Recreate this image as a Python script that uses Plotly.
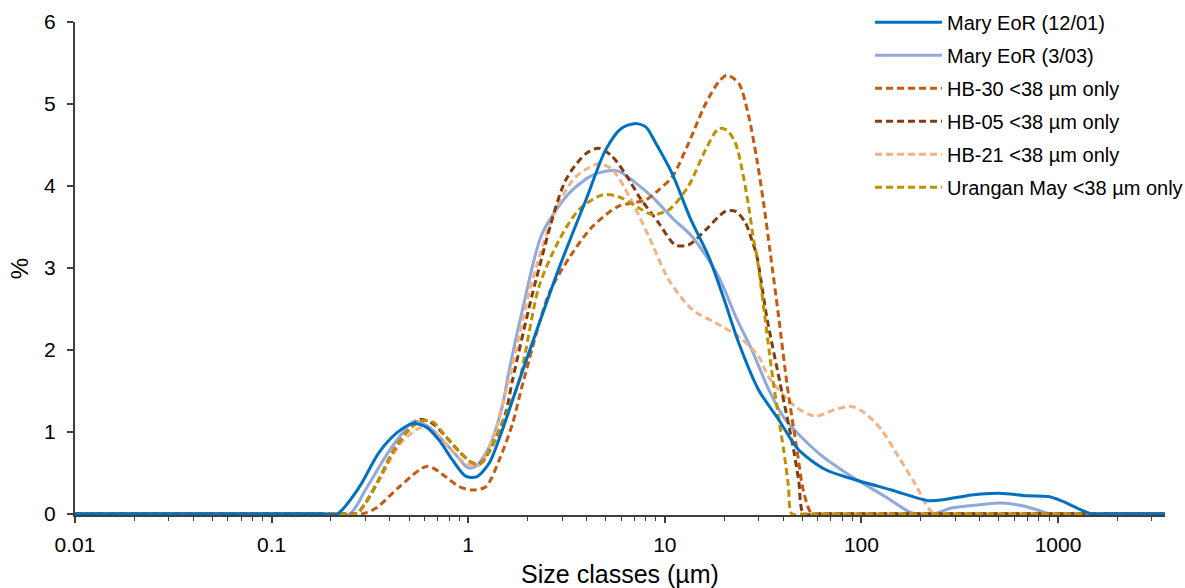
import plotly.graph_objects as go

# ---- data (size in µm, volume %) ----
x_mary1201 = [0.01, 0.18, 0.216, 0.28, 0.35, 0.43, 0.52, 0.61, 0.71, 0.83, 0.97, 1.1, 1.28, 1.49, 1.82, 2.9, 4.0, 5.0, 6.0, 7.0, 8.0, 9.0, 10.9, 13.5, 16.7, 20.0, 23.8, 30.0, 37.9, 47.9, 65.5, 86.0, 142, 219, 260, 363, 500, 700, 891, 1035, 1250, 1472, 1800, 3500]
y_mary1201 = [0, 0, 0, 0.33, 0.74, 0.98, 1.10, 1.06, 0.90, 0.66, 0.46, 0.45, 0.62, 1.02, 1.63, 3.0, 3.85, 4.44, 4.70, 4.76, 4.72, 4.52, 4.15, 3.60, 3.14, 2.62, 2.08, 1.51, 1.15, 0.78, 0.54, 0.44, 0.29, 0.16, 0.17, 0.23, 0.25, 0.22, 0.21, 0.16, 0.07, 0, 0, 0]

x_mary0303 = [0.01, 0.2, 0.25, 0.30, 0.38, 0.447, 0.53, 0.63, 0.74, 0.865, 1.0, 1.1, 1.28, 1.49, 1.6, 1.9, 2.38, 3.26, 4.2, 5.0, 5.8, 7.0, 8.6, 11.0, 13.8, 18.8, 23.0, 27.7, 34.0, 41.0, 60.5, 89.0, 132, 173, 190, 234, 287, 400, 513, 650, 800, 900, 1200, 3500]
y_mary0303 = [0, 0, 0, 0.29, 0.70, 0.94, 1.13, 1.06, 0.90, 0.72, 0.56, 0.585, 0.82, 1.31, 1.70, 2.52, 3.42, 3.91, 4.12, 4.18, 4.18, 4.05, 3.87, 3.60, 3.38, 2.89, 2.40, 2.0, 1.50, 1.15, 0.74, 0.455, 0.21, 0.03, 0, 0, 0.07, 0.11, 0.13, 0.10, 0.04, 0, 0, 0]

x_hb30 = [0.01, 0.25, 0.29, 0.34, 0.447, 0.62, 0.77, 0.9, 1.05, 1.23, 1.44, 1.68, 1.9, 2.58, 3.3, 4.27, 5.8, 8.0, 9.3, 10.9, 13.2, 16.1, 18.8, 20.7, 23.8, 26.7, 29.4, 31.8, 34.4, 37.9, 41.8, 47.0, 51.0, 56.0, 65.0, 3500]
y_hb30 = [0, 0, 0, 0.07, 0.33, 0.58, 0.45, 0.33, 0.29, 0.33, 0.66, 1.10, 1.60, 2.69, 3.14, 3.50, 3.75, 3.83, 3.95, 4.11, 4.52, 5.0, 5.27, 5.35, 5.25, 4.85, 4.32, 3.79, 3.18, 2.41, 1.59, 0.78, 0.25, 0, 0, 0]

x_hb05 = [0.01, 0.23, 0.27, 0.30, 0.35, 0.41, 0.48, 0.57, 0.66, 0.77, 0.9, 1.05, 1.16, 1.32, 1.55, 1.68, 2.21, 3.13, 4.0, 4.62, 5.4, 6.6, 7.4, 9.3, 11.3, 13.2, 16.1, 20.3, 22.9, 25.7, 27.7, 29.4, 33.0, 38.6, 45.2, 48.0, 50.8, 60.0, 3500]
y_hb05 = [0, 0, 0, 0.13, 0.41, 0.74, 0.98, 1.15, 1.10, 0.94, 0.76, 0.62, 0.62, 0.82, 1.23, 1.63, 2.85, 4.07, 4.40, 4.46, 4.36, 4.07, 3.87, 3.55, 3.28, 3.28, 3.46, 3.69, 3.69, 3.55, 3.34, 3.14, 2.40, 1.59, 0.78, 0.40, 0, 0, 0]

x_hb21 = [0.01, 0.23, 0.27, 0.35, 0.45, 0.57, 0.66, 0.8, 0.95, 1.05, 1.15, 1.32, 1.61, 2.12, 2.79, 3.52, 4.62, 5.4, 6.6, 8.3, 10.5, 13.8, 18.1, 23.8, 30.0, 33.7, 46.0, 58.0, 73.0, 89.0, 104, 127, 154, 187, 219, 235, 280, 3500]
y_hb21 = [0, 0, 0, 0.40, 0.85, 1.05, 1.02, 0.80, 0.63, 0.58, 0.60, 0.90, 1.63, 2.85, 3.71, 4.11, 4.27, 4.20, 3.87, 3.38, 2.85, 2.49, 2.33, 2.16, 1.92, 1.67, 1.31, 1.19, 1.27, 1.31, 1.23, 1.02, 0.70, 0.37, 0.07, 0, 0, 0]

x_urangan = [0.01, 0.23, 0.27, 0.30, 0.35, 0.41, 0.48, 0.57, 0.66, 0.77, 0.9, 1.05, 1.16, 1.32, 1.55, 1.82, 2.29, 2.9, 3.66, 4.8, 5.8, 7.4, 8.6, 10.5, 13.2, 16.1, 18.8, 20.7, 22.9, 24.7, 26.7, 28.3, 29.4, 35.7, 40.2, 42.5, 44.3, 52.0, 3500]
y_urangan = [0, 0, 0, 0.13, 0.41, 0.74, 0.98, 1.13, 1.12, 0.94, 0.76, 0.62, 0.62, 0.82, 1.20, 1.63, 2.77, 3.34, 3.71, 3.89, 3.87, 3.73, 3.65, 3.71, 4.0, 4.44, 4.70, 4.68, 4.52, 4.20, 3.75, 3.34, 3.14, 1.59, 0.78, 0.35, 0, 0, 0]

series_names = ["Mary EoR (12/01)", "Mary EoR (3/03)", "HB-30 <38 µm only",
                "HB-05 <38 µm only", "HB-21 <38 µm only", "Urangan May <38 µm only"]
x_ticks = [0.01, 0.1, 1, 10, 100, 1000]
x_tick_labels = ["0.01", "0.1", "1", "10", "100", "1000"]
y_ticks = [0, 1, 2, 3, 4, 5, 6]

# ---- styles ----
colors = ["#0070C0", "#8EA9DB", "#C55A11", "#843C0C", "#F4B183", "#BF9000"]
dashes = ["solid", "solid", "7px,4px", "7px,4px", "7px,4px", "7px,4px"]
xs = [x_mary1201, x_mary0303, x_hb30, x_hb05, x_hb21, x_urangan]
ys = [y_mary1201, y_mary0303, y_hb30, y_hb05, y_hb21, y_urangan]
order = [1, 4, 2, 3, 5, 0]  # drawing order (back to front)

FONT = "Liberation Sans, Arial, sans-serif"
fig = go.Figure()
for i in order:
    fig.add_trace(go.Scatter(
        x=xs[i], y=ys[i], name=series_names[i], mode="lines",
        line=dict(color=colors[i], width=3, dash=dashes[i], shape="spline", smoothing=0.8),
        legendgroup=str(i), legendrank=i + 1,
    ))

minor_vals = [m * 10 ** e for e in range(-2, 4) for m in range(2, 10) if m * 10 ** e <= 3500]

fig.update_layout(
    width=1185, height=588,
    margin=dict(l=75, r=20, t=22, b=73, autoexpand=False),
    paper_bgcolor="white", plot_bgcolor="white",
    font=dict(family=FONT, size=20, color="#000000"),
    showlegend=True,
    legend=dict(x=0.7294, y=1.039, xanchor="left", yanchor="top",
                font=dict(size=20, family=FONT, color="#000000"),
                bgcolor="rgba(0,0,0,0)", traceorder="grouped", tracegroupgap=4,
                itemwidth=67),
    xaxis=dict(
        type="log", range=[-2, 3.5441],
        tickvals=x_ticks, ticktext=x_tick_labels,
        ticks="outside", ticklen=6, tickcolor="#404040", tickwidth=1.5,
        showline=True, linecolor="#404040", linewidth=2,
        showgrid=False, zeroline=False, layer="below traces",
        tickfont=dict(size=21, family=FONT),
        ticklabelstandoff=4,
        minor=dict(tickvals=minor_vals, ticks="outside", ticklen=4, tickcolor="#404040", tickwidth=1.2),
        title=dict(text="Size classes (µm)", font=dict(size=25, family=FONT), standoff=11),
    ),
    yaxis=dict(
        range=[-0.015, 6], tickvals=y_ticks,
        ticks="outside", ticklen=6, tickcolor="#404040", tickwidth=1.5,
        showline=True, linecolor="#404040", linewidth=2,
        showgrid=False, zeroline=False,
        tickfont=dict(size=21, family=FONT),
        ticklabelstandoff=7,
        title=dict(text="%", font=dict(size=24, family=FONT), standoff=9),
    ),
)

fig.write_html("out.html")
